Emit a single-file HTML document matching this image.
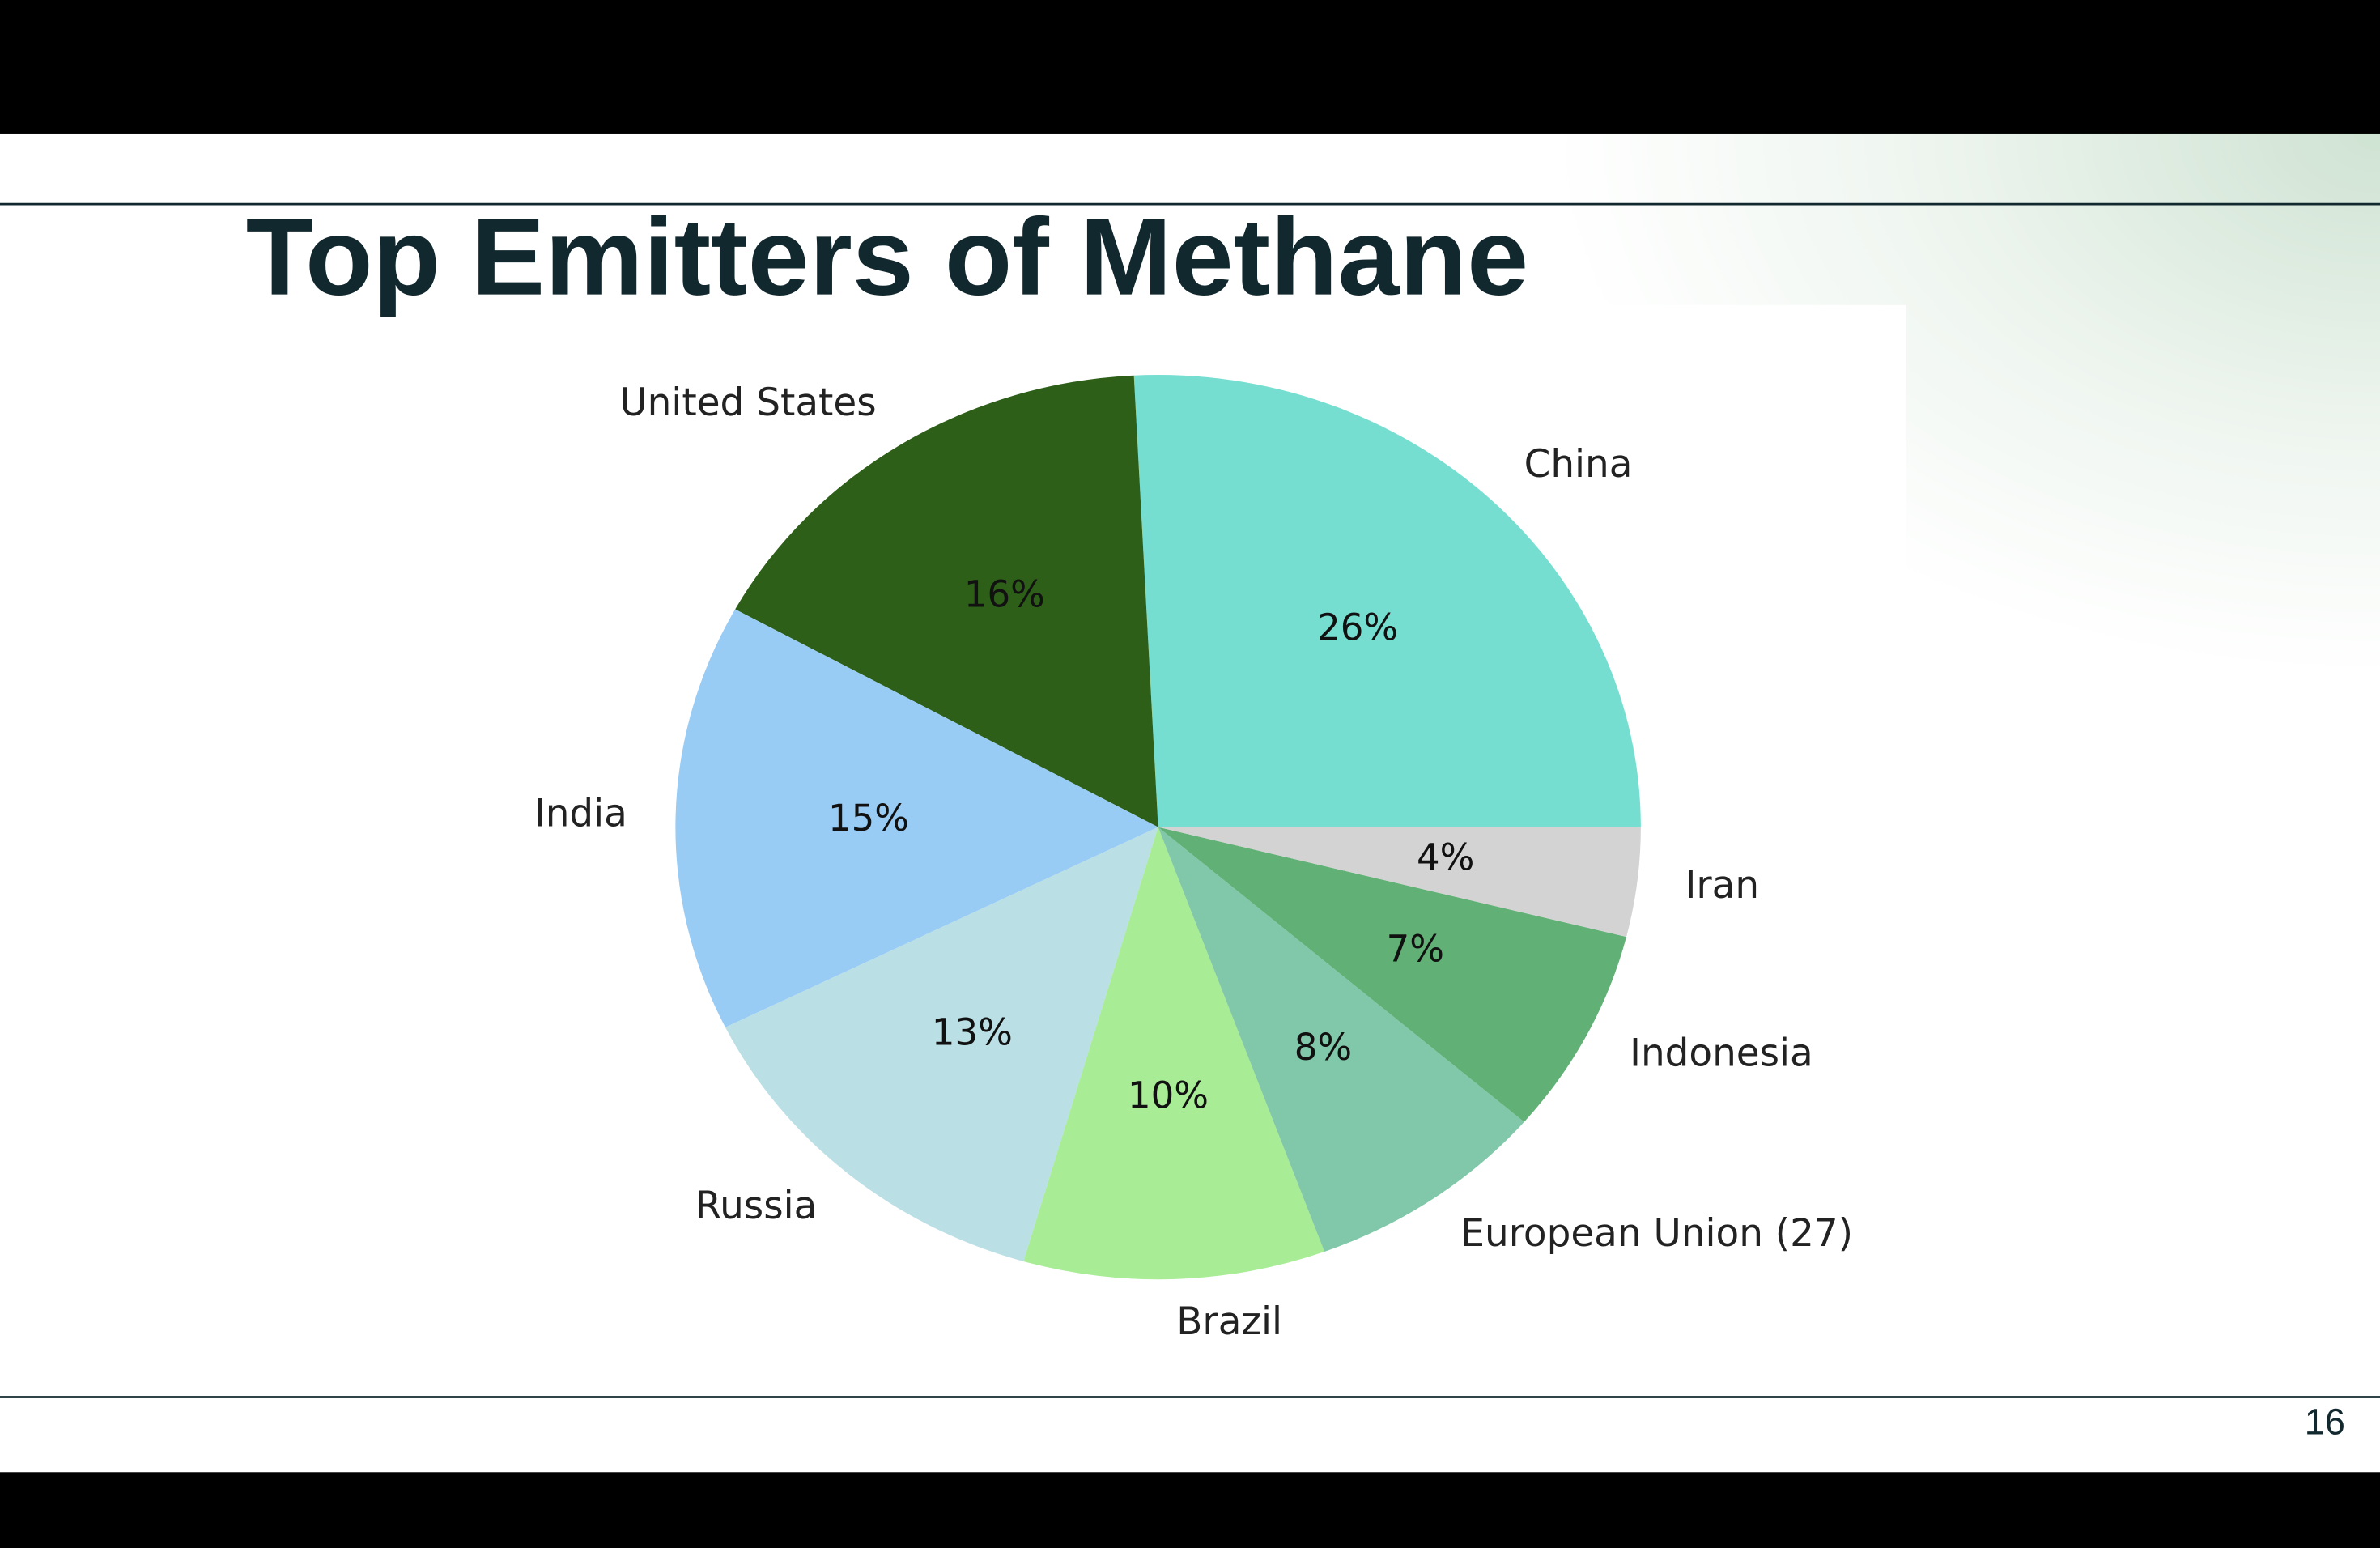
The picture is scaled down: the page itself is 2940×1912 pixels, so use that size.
<!DOCTYPE html>
<html><head><meta charset="utf-8"><style>
html,body{margin:0;padding:0;width:2940px;height:1912px;overflow:hidden;background:#fff}
svg{display:block}
</style></head><body>
<svg id="chart" width="2940" height="1912" viewBox="0 0 1568 1020" preserveAspectRatio="none" xmlns="http://www.w3.org/2000/svg">
<defs>
<radialGradient id="bg" cx="1568" cy="88" r="420" gradientUnits="userSpaceOnUse" gradientTransform="translate(1568 88) scale(1.3 0.85) translate(-1568 -88)">
<stop offset="0" stop-color="#cfe3d3"/><stop offset="0.55" stop-color="#eef5ef"/><stop offset="1" stop-color="#ffffff"/>
</radialGradient>
</defs>
<rect x="0" y="0" width="1568" height="1020" fill="url(#bg)"/>
<rect x="0" y="201" width="1256" height="719" fill="#fff"/>
<rect x="0" y="0" width="1568" height="88" fill="#000"/>
<rect x="0" y="970" width="1568" height="50" fill="#000"/>
<line x1="0" y1="134.5" x2="1568" y2="134.5" stroke="#12282f" stroke-width="1.5"/>
<line x1="0" y1="920.5" x2="1568" y2="920.5" stroke="#12282f" stroke-width="1.5"/>
<text x="162" y="194" font-family="Liberation Sans, sans-serif" font-weight="bold" font-size="72" fill="#12282f" textLength="845" lengthAdjust="spacingAndGlyphs">Top Emitters of Methane</text>
<text x="1545" y="945" text-anchor="end" font-family="Liberation Sans, sans-serif" font-size="24" fill="#12282f">16</text>
<g id="pie"></g>
</svg>
<script>
const categories = ["China","United States","India","Russia","Brazil","European Union (27)","Indonesia","Iran"];
const values = [25.8,16.2,15.3,13.2,10.1,8.1,7.4,3.9];
const pctLabels = ["26%","16%","15%","13%","10%","8%","7%","4%"];
const colors = ["#76ded0","#2d5f18","#99ccf5","#badfe5","#a8ec96","#80c8a9","#61b076","#d3d3d3"];
const cx=763, cy=545, rx=318, ry=298;
const NS="http://www.w3.org/2000/svg";
const g=document.getElementById('pie');
const total=values.reduce((a,b)=>a+b,0);
function pt(a,f){return [cx+f*rx*Math.cos(a), cy-f*ry*Math.sin(a)];}
let start=0;
values.forEach((v,i)=>{
  const sweep=v/total*2*Math.PI, end=start+sweep;
  const p0=pt(start,1), p1=pt(end,1);
  const path=document.createElementNS(NS,'path');
  path.setAttribute('d',`M${cx},${cy} L${p0[0]},${p0[1]} A${rx},${ry} 0 ${sweep>Math.PI?1:0} 0 ${p1[0]},${p1[1]} Z`);
  path.setAttribute('fill',colors[i]);
  
  
  g.appendChild(path);
  const mid=(start+end)/2;
  const lp=pt(mid,1.1);
  const t=document.createElementNS(NS,'text');
  t.setAttribute('x',lp[0]);t.setAttribute('y',lp[1]);
  t.setAttribute('text-anchor',Math.cos(mid)>=0?'start':'end');
  t.setAttribute('dominant-baseline','middle');
  t.setAttribute('font-family','DejaVu Sans, sans-serif');
  t.setAttribute('font-size','25');t.setAttribute('fill','#222');
  t.textContent=categories[i];
  
  
  g.appendChild(t);
  const pp=pt(mid,0.6);
  const u=document.createElementNS(NS,'text');
  u.setAttribute('x',pp[0]);u.setAttribute('y',pp[1]);
  u.setAttribute('text-anchor','middle');u.setAttribute('dominant-baseline','middle');
  u.setAttribute('font-family','DejaVu Sans, sans-serif');
  u.setAttribute('font-size','24');u.setAttribute('fill','#111');
  u.textContent=pctLabels[i];
  
  
  g.appendChild(u);
  start=end;
});
</script>
</body></html>
